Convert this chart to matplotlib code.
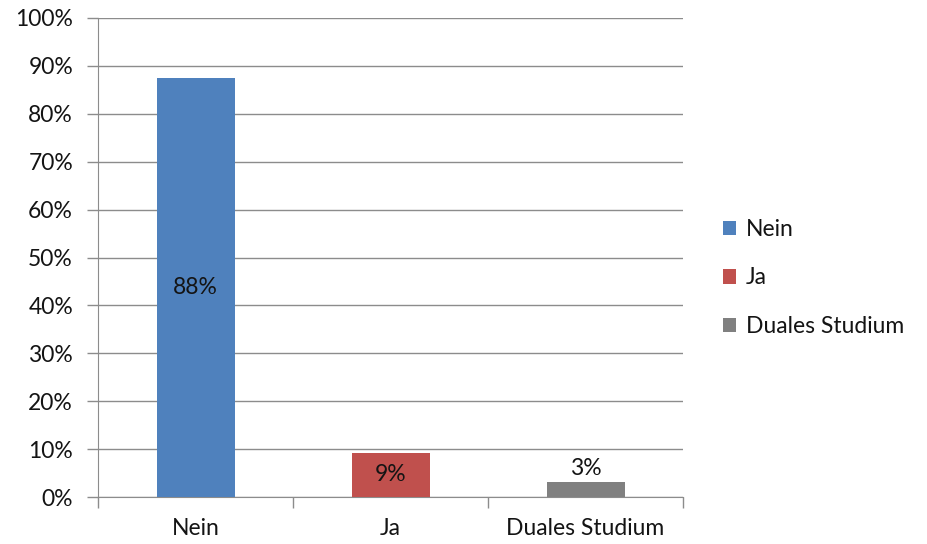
import matplotlib.pyplot as plt
from matplotlib.patches import Patch
from matplotlib.ticker import PercentFormatter, FixedLocator

categories = ['Nein', 'Ja', 'Duales Studium']
values = [0.875, 0.092, 0.031]
labels = ['88%', '9%', '3%']
colors = ['#4f81bd', '#c0504d', '#808080']

plt.rcParams['font.family'] = ['Lato', 'DejaVu Sans']
text_color = '#141414'
grid_color = '#8c8c8c'
fs = 16.5

fig = plt.figure(figsize=(9.27, 5.44), dpi=100)
ax = fig.add_axes([98 / 927, 47 / 544, 585 / 927, 479 / 544])

x = range(len(categories))
bars = ax.bar(x, values, width=0.4, color=colors, zorder=3)

# data labels: centered for big bars, above for the small one
for i, (b, lab) in enumerate(zip(bars, labels)):
    h = b.get_height()
    if h > 0.05:
        ax.text(b.get_x() + b.get_width() / 2, h / 2, lab, ha='center', va='center',
                fontsize=fs, color=text_color, zorder=4)
    else:
        ax.text(b.get_x() + b.get_width() / 2, h + 0.006, lab, ha='center', va='bottom',
                fontsize=fs, color=text_color, zorder=4)

ax.set_xlim(-0.5, len(categories) - 0.5)
ax.set_ylim(0, 1)
ax.yaxis.set_major_locator(FixedLocator([i / 10 for i in range(11)]))
ax.yaxis.set_major_formatter(PercentFormatter(1.0, decimals=0))
ax.grid(axis='y', color=grid_color, linewidth=1, zorder=0)

ax.set_xticks(list(x))
ax.set_xticklabels(categories)
ax.set_xticks([i - 0.5 for i in range(len(categories) + 1)], minor=True)
ax.tick_params(axis='x', which='major', length=0, pad=15, labelsize=fs, labelcolor=text_color)
ax.tick_params(axis='x', which='minor', length=8, color=grid_color, width=1)
ax.tick_params(axis='y', length=8, color=grid_color, width=1, pad=10, labelsize=fs,
               labelcolor=text_color)

for side in ['top', 'right']:
    ax.spines[side].set_visible(False)
ax.spines['left'].set_color(grid_color)
ax.spines['bottom'].set_color(grid_color)

handles = [Patch(facecolor=c, label=n) for c, n in zip(colors, categories)]
fig.legend(handles=handles, loc='center left', bbox_to_anchor=(702 / 927, 1 - 278 / 544),
           frameon=False, fontsize=fs, handlelength=0.6, handleheight=0.6,
           handletextpad=0.4, labelspacing=1.2, labelcolor=text_color)

fig.savefig('out.png', dpi=100)
